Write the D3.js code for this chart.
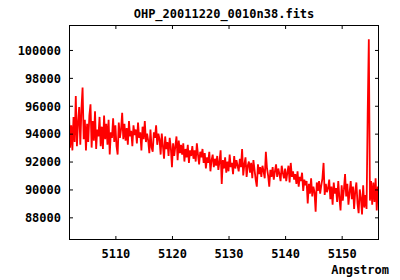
<!DOCTYPE html>
<html><head><meta charset="utf-8">
<script src="https://cdn.jsdelivr.net/npm/d3@7"></script>
<style>body{margin:0;background:#fff}svg{display:block}text{font-family:"DejaVu Sans Mono",monospace;font-weight:bold;font-size:12px;fill:#000}</style>
</head><body><div id="c"></div>
<script>
const title = "OHP_20011220_0010n38.fits";
const xLabel = "Angstrom";
const lambdaStart = 5101.8, lambdaStep = 0.2;
const xTicks = [5110, 5120, 5130, 5140, 5150];
const yTicks = [88000, 90000, 92000, 94000, 96000, 98000, 100000];
const flux = [
95500,93000,94600,92800,95200,93400,96700,93100,94800,95900,
93200,95800,97300,93600,95000,92800,94700,93400,95300,96100,
93000,94900,93500,95600,92900,94300,93800,95200,93100,94500,
92900,95300,93600,94700,93200,95000,92500,94100,93700,95100,
93400,94600,93100,92500,94800,93700,94300,95500,93600,94700,
93500,94400,93200,94900,93800,94200,93100,94600,93900,94300,
93300,94800,93700,94100,92800,94500,93600,94900,93400,94000,
93500,92600,94300,93000,92700,94100,93700,94600,93200,94000,
93600,92500,94000,93100,92200,93800,92900,93400,92400,93700,
93000,91600,93300,92400,93100,93800,92100,93500,92600,93200,
92500,93300,92000,92900,92300,93200,91900,92800,92400,93100,
92200,92800,92000,93300,92500,91800,92700,92300,92900,91900,
92600,91500,92300,91900,92700,91300,92100,92500,91600,92200,
91700,92400,91400,92000,92800,90400,92100,91500,92300,91200,
92000,91300,92500,91600,91900,91100,92400,91500,92100,91700,
91300,92200,91600,92900,91000,91800,92300,90900,91700,92000,
91200,91900,90800,92100,91400,90700,90200,91800,91100,91600,
90900,91700,91300,90800,92700,91500,91000,90200,91400,90900,
91600,90700,91300,91800,90900,91500,91100,90600,91700,91200,
90800,91500,90600,91200,91700,90500,91900,90900,91300,90700,
91100,90400,91300,90200,90900,90600,91200,89900,90700,90300,
90600,89000,90400,89700,90800,89500,90200,89800,88400,90500,
89900,90600,89700,90300,90800,91900,89600,90400,89800,90100,
90700,89300,90200,88900,90500,89700,90100,89100,90600,89400,
88500,90300,89200,90000,91100,89500,90400,88900,89800,90600,
89300,90200,88600,89900,90500,89000,88300,90000,89400,88200,
90300,88700,89600,88600,95400,100770,89200,90600,88900,90500,
89100,90800,88500,90200,89000
];
const W = 400, H = 280;
const m = {l: 69, r: 379, t: 25, b: 240};
const svg = d3.select("#c").append("svg").attr("width", W).attr("height", H);
const x = d3.scaleLinear().domain([5101.8, 5156.6]).range([m.l, m.r]);
const y = d3.scaleLinear().domain([86375, 101790]).range([m.b, m.t]);
const data = flux.map((v, i) => ({w: lambdaStart + i * lambdaStep, v}));

svg.append("defs").append("clipPath").attr("id", "clip").append("rect")
  .attr("x", m.l).attr("y", m.t).attr("width", m.r - m.l).attr("height", m.b - m.t);

svg.append("path").datum(data).attr("clip-path", "url(#clip)")
  .attr("fill", "none").attr("stroke", "#ff0000").attr("stroke-width", 1.8)
  .attr("d", d3.line().x(d => x(d.w)).y(d => y(d.v)));

const tl = 4;
const axB = svg.append("g").attr("transform", `translate(0,${m.b})`)
  .call(d3.axisBottom(x).tickValues(xTicks).tickSizeInner(-tl).tickSizeOuter(0).tickPadding(10).tickFormat(d3.format("d")));
const axT = svg.append("g").attr("transform", `translate(0,${m.t})`)
  .call(d3.axisTop(x).tickValues(xTicks).tickSizeInner(-tl).tickSizeOuter(0).tickFormat(""));
const axL = svg.append("g").attr("transform", `translate(${m.l},0)`)
  .call(d3.axisLeft(y).tickValues(yTicks).tickSizeInner(-tl).tickSizeOuter(0).tickPadding(12).tickFormat(d3.format("d")));
const axR = svg.append("g").attr("transform", `translate(${m.r},0)`)
  .call(d3.axisRight(y).tickValues(yTicks).tickSizeInner(-tl).tickSizeOuter(0).tickFormat(""));
[axB, axT, axL, axR].forEach(a => {
  a.select(".domain").remove();
  a.selectAll("line").attr("stroke", "#000");
  a.selectAll("text").attr("font-family", null).attr("font-size", null).style("fill", "#000");
});
axB.selectAll("text").attr("dy", null).attr("y", 18);
axL.selectAll("text").attr("dy", "0.36em").attr("x", -8);

svg.append("rect").attr("x", m.l + 0.5).attr("y", m.t + 0.5)
  .attr("width", m.r - m.l - 1).attr("height", m.b - m.t - 1)
  .attr("fill", "none").attr("stroke", "#000").attr("stroke-width", 1);

svg.append("text").attr("x", (m.l + m.r) / 2).attr("y", 18).attr("text-anchor", "middle").text(title);
svg.append("text").attr("x", 389).attr("y", 274).attr("text-anchor", "end").text(xLabel);
</script></body></html>
